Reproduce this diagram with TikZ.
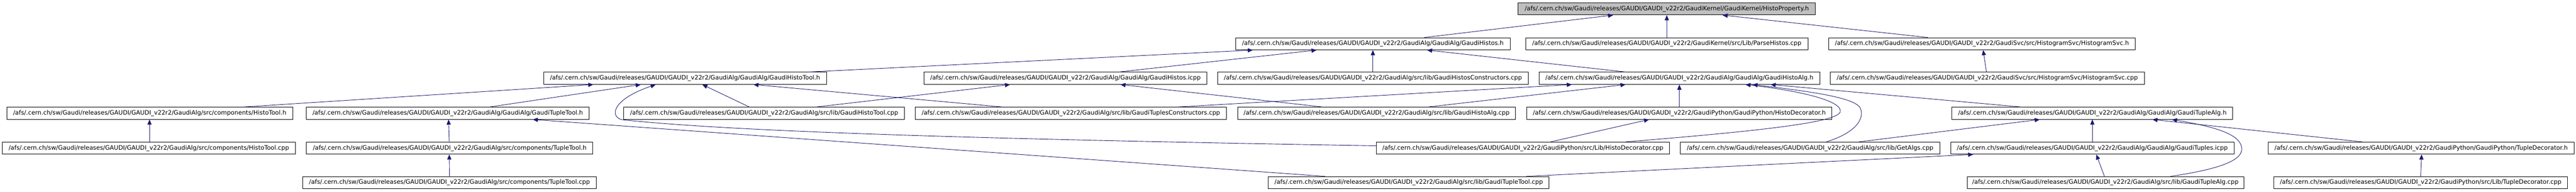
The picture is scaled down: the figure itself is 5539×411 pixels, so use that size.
\documentclass[tikz,border=0pt]{standalone}
\usepackage{fontspec}
\setmainfont{DejaVu Sans}
\usetikzlibrary{arrows.meta}
\definecolor{edgeblue}{HTML}{191970}
\definecolor{rootgrey}{HTML}{BFBFBF}
\newcommand{\gpfx}{/afs/.cern.ch/sw/Gaudi/releases/GAUDI/GAUDI\_v22r2/}
\begin{document}
\begin{tikzpicture}[x=1pt,y=-1pt,
  filebox/.style={draw=black,line width=1pt,fill=white,minimum height=26pt,inner sep=0pt,
    font=\fontsize{13}{15}\selectfont},
  edge/.style={draw=edgeblue,line width=1pt,-{Triangle[length=11pt,width=9pt]}}]
\useasboundingbox[fill=white] (0,0) rectangle (5539,411);
% row 0
\node[filebox,fill=rootgrey,minimum width=639pt] (hp) at (3584,19) {\gpfx GaudiKernel/GaudiKernel/HistoProperty.h};
% row 1
\node[filebox,minimum width=590pt] (ghs) at (2952,94) {\gpfx GaudiAlg/GaudiAlg/GaudiHistos.h};
\node[filebox,minimum width=607pt] (parse) at (3584,94) {\gpfx GaudiKernel/src/Lib/ParseHistos.cpp};
\node[filebox,minimum width=660pt] (hsvch) at (4261.5,94) {\gpfx GaudiSvc/src/HistogramSvc/HistogramSvc.h};
% row 2
\node[filebox,minimum width=608pt] (ghtoolh) at (1473,168) {\gpfx GaudiAlg/GaudiAlg/GaudiHistoTool.h};
\node[filebox,minimum width=608pt] (ghicpp) at (2291,168) {\gpfx GaudiAlg/GaudiAlg/GaudiHistos.icpp};
\node[filebox,minimum width=668pt] (ghcons) at (2952,168) {\gpfx GaudiAlg/src/lib/GaudiHistosConstructors.cpp};
\node[filebox,minimum width=604pt] (ghalgh) at (3611,168) {\gpfx GaudiAlg/GaudiAlg/GaudiHistoAlg.h};
\node[filebox,minimum width=676pt] (hsvccpp) at (4273,168) {\gpfx GaudiSvc/src/HistogramSvc/HistogramSvc.cpp};
% row 3
\node[filebox,minimum width=615pt] (htoolh) at (322,243) {\gpfx GaudiAlg/src/components/HistoTool.h};
\node[filebox,minimum width=609pt] (gttoolh) at (962.7,243) {\gpfx GaudiAlg/GaudiAlg/GaudiTupleTool.h};
\node[filebox,minimum width=604pt] (ghtoolcpp) at (1643,243) {\gpfx GaudiAlg/src/lib/GaudiHistoTool.cpp};
\node[filebox,minimum width=669pt] (gtcons) at (2302.6,243) {\gpfx GaudiAlg/src/lib/GaudiTuplesConstructors.cpp};
\node[filebox,minimum width=598pt] (ghalgcpp) at (2960,243) {\gpfx GaudiAlg/src/lib/GaudiHistoAlg.cpp};
\node[filebox,minimum width=656pt] (hdech) at (3611,243) {\gpfx GaudiPython/GaudiPython/HistoDecorator.h};
\node[filebox,minimum width=604pt] (gtalgh) at (4499,243) {\gpfx GaudiAlg/GaudiAlg/GaudiTupleAlg.h};
% row 4
\node[filebox,minimum width=630pt] (htoolcpp) at (320,318) {\gpfx GaudiAlg/src/components/HistoTool.cpp};
\node[filebox,minimum width=616pt] (ttoolh) at (967,318) {\gpfx GaudiAlg/src/components/TupleTool.h};
\node[filebox,minimum width=630pt] (hdeccpp) at (3274.5,318) {\gpfx GaudiPython/src/Lib/HistoDecorator.cpp};
\node[filebox,minimum width=559pt] (getalgs) at (3892,318) {\gpfx GaudiAlg/src/lib/GetAlgs.cpp};
\node[filebox,minimum width=609pt] (gticpp) at (4499,318) {\gpfx GaudiAlg/GaudiAlg/GaudiTuples.icpp};
\node[filebox,minimum width=657pt] (tdech) at (5206,318) {\gpfx GaudiPython/GaudiPython/TupleDecorator.h};
% row 5
\node[filebox,minimum width=631pt] (ttoolcpp) at (966.5,392) {\gpfx GaudiAlg/src/components/TupleTool.cpp};
\node[filebox,minimum width=604pt] (gttoolcpp) at (3029,392) {\gpfx GaudiAlg/src/lib/GaudiTupleTool.cpp};
\node[filebox,minimum width=595pt] (gtalgcpp) at (4527,392) {\gpfx GaudiAlg/src/lib/GaudiTupleAlg.cpp};
\node[filebox,minimum width=632pt] (tdeccpp) at (5205,392) {\gpfx GaudiPython/src/Lib/TupleDecorator.cpp};
% edges row1 -> row0
\draw[edge] ([xshift=110.5pt]ghs.north) -- ([xshift=-115.3pt]hp.south);
\draw[edge] (parse.north) -- (hp.south);
\draw[edge] ([xshift=-116pt]hsvch.north) -- ([xshift=119.7pt]hp.south);
% row2 -> row1
\draw[edge] ([xshift=265.5pt]ghtoolh.north) -- ([xshift=-258pt]ghs.south);
\draw[edge] ([xshift=115pt]ghicpp.north) -- ([xshift=-121pt]ghs.south);
\draw[edge] (ghcons.north) -- (ghs.south);
\draw[edge] ([xshift=-115.6pt]ghalgh.north) -- ([xshift=116.4pt]ghs.south);
\draw[edge] ([xshift=-1.7pt]hsvccpp.north) -- ([xshift=2.7pt]hsvch.south);
% row3 -> row2
\draw[edge] ([xshift=203pt]htoolh.north) -- ([xshift=-197pt]ghtoolh.south);
\draw[edge] ([xshift=90.7pt]gttoolh.north) -- ([xshift=-95pt]ghtoolh.south);
\draw[edge] ([xshift=-32pt]ghtoolcpp.north) -- ([xshift=37pt]ghtoolh.south);
\draw[edge] ([xshift=113pt]ghtoolcpp.north) -- ([xshift=-119pt]ghicpp.south);
\draw[edge] ([xshift=-148.6pt]gtcons.north) -- ([xshift=147pt]ghtoolh.south);
\draw[edge] ([xshift=231.4pt]gtcons.north) -- ([xshift=-231pt]ghalgh.south);
\draw[edge] ([xshift=-117pt]ghalgcpp.north) -- ([xshift=118pt]ghicpp.south);
\draw[edge] ([xshift=111.4pt]ghalgcpp.north) -- ([xshift=-115.6pt]ghalgh.south);
\draw[edge] (hdech.north) -- (ghalgh.south);
\draw[edge] ([xshift=-154.7pt]gtalgh.north) -- ([xshift=196pt]ghalgh.south);
% row4 -> row3
\draw[edge] ([xshift=1.5pt]htoolcpp.north) -- ([xshift=-0.5pt]htoolh.south);
\draw[edge] ([xshift=-1pt]ttoolh.north) -- ([xshift=1.8pt]gttoolh.south);
\draw[edge] ([xshift=59.5pt]hdeccpp.north) -- ([xshift=-65pt]hdech.south);
\draw[edge] ([xshift=221pt]hdeccpp.north) .. controls (3800,280) and (3950,262) .. (3957,240)
  .. controls (3962,218) and (3880,196) .. ([xshift=142pt]ghalgh.south);
\draw[edge] ([xshift=35pt]getalgs.north) .. controls (3990,285) and (4010,255) .. (4000,232)
  .. controls (3988,208) and (3880,195) .. ([xshift=157pt]ghalgh.south);
\draw[edge] ([xshift=105pt]getalgs.north) -- ([xshift=-113pt]gtalgh.south);
\draw[edge] (gticpp.north) -- (gtalgh.south);
\draw[edge] ([xshift=-127pt]tdech.north) -- ([xshift=129pt]gtalgh.south);
\draw[edge] ([yshift=5pt]hdeccpp.west) .. controls (2200,300) and (1600,285) .. (1338,257)
  .. controls (1312,252) and (1312,215) .. ([xshift=-63pt]ghtoolh.south);
% row5 -> row4 / row3
\draw[edge] ([xshift=-180pt]gttoolcpp.north) -- ([xshift=182.7pt]gttoolh.south);
\draw[edge] ([xshift=253pt]gttoolcpp.north) -- ([xshift=-256pt]gticpp.south);
\draw[edge] (ttoolcpp.north) -- ([xshift=-1pt]ttoolh.south);
\draw[edge] ([xshift=-2pt]gtalgcpp.north) -- ([xshift=8.4pt]gticpp.south);
\draw[edge] ([xshift=140pt]gtalgcpp.north) .. controls (4780,362) and (4825,342) .. (4820,316)
  .. controls (4815,285) and (4750,270) .. ([xshift=171pt]gtalgh.south);
\draw[edge] (tdeccpp.north) -- ([xshift=1pt]tdech.south);
\end{tikzpicture}
\end{document}
